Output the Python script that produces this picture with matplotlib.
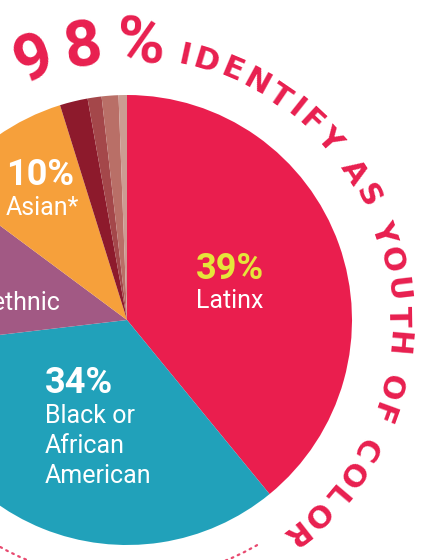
import numpy as np
import matplotlib
matplotlib.use("Agg")
import matplotlib.pyplot as plt
from matplotlib.patches import Arc
from matplotlib.font_manager import FontProperties
from matplotlib.textpath import text_to_path

# ---- data ----
categories = ["Latinx", "Black or African American", "Multiethnic", "Asian*",
              "Native American", "Pacific Islander", "Other", "White"]
values = [39, 34, 12, 10, 2, 1, 1.2, 0.6]
colors = ["#EA1E4E", "#21A1BA", "#A25984", "#F6A03B",
          "#8D1A2C", "#A4474A", "#B96F67", "#CB9C92"]
pct_labels = ["39%", "34%", "12%", "10%"]
name_labels = ["Latinx", ["Black or", "African", "American"], "Multiethnic", "Asian*"]
headline_num = "98%"
headline_text = "IDENTIFY AS YOUTH OF COLOR"

RED = "#E81F4F"
W, H = 425, 560
fig = plt.figure(figsize=(W / 100, H / 100), dpi=100)
ax = fig.add_axes([0, 0, 1, 1])
ax.axis("off")

cx, cy, R = 127, 240, 225
ax.pie(values, colors=colors, startangle=90, counterclock=False,
       center=(cx, cy), radius=R, wedgeprops=dict(linewidth=0))
ax.set_xlim(0, W)
ax.set_ylim(0, H)
ax.set_aspect("auto")

lab_font = "Roboto"
PCT = 26
NAME = 18
# Latinx
ax.text(196, 281, pct_labels[0], color="#E5E63A", fontsize=PCT, fontweight="bold",
        family=lab_font, ha="left", va="baseline")
ax.text(196, 252, name_labels[0], color="white", fontsize=NAME,
        family=lab_font, ha="left", va="baseline")
# Black or African American
ax.text(45, 167, pct_labels[1], color="white", fontsize=PCT, fontweight="bold",
        family=lab_font, ha="left", va="baseline")
for i, line in enumerate(name_labels[1]):
    ax.text(45, 137 - 30 * i, line, color="white", fontsize=NAME,
            family=lab_font, ha="left", va="baseline")
# Multiethnic (cut off at the left edge, as in the original crop)
ax.text(-64, 250, name_labels[2], color="white", fontsize=NAME,
        family=lab_font, ha="left", va="baseline")
# Asian
ax.text(6, 375, pct_labels[3], color="white", fontsize=PCT, fontweight="bold",
        family=lab_font, ha="left", va="baseline")
ax.text(6, 345, name_labels[3], color="white", fontsize=NAME,
        family=lab_font, ha="left", va="baseline")


def arc_text(s, a_first, a_last, r_base, size, family, weight):
    fp = FontProperties(family=family, weight=weight, size=size)
    widths = []
    for ch in s:
        w, h, d = text_to_path.get_text_width_height_descent(ch, fp, ismath=False)
        widths.append(w * 100 / 72)
    widths = np.array(widths)
    centers = np.cumsum(widths) - widths / 2
    span = np.deg2rad(a_last - a_first) * r_base
    n = len(s)
    t = (span - (centers[-1] - centers[0])) / (n - 1)
    centers = centers + t * np.arange(n)
    for ch, c in zip(s, centers):
        th = a_first + np.rad2deg((c - centers[0]) / r_base)
        rad = np.deg2rad(th)
        x = cx + r_base * np.sin(rad)
        y = cy + r_base * np.cos(rad)
        ax.text(x, y, ch, color=RED, fontsize=size, fontweight=weight, family=family,
                rotation=-th, rotation_mode="anchor", ha="center", va="baseline")


arc_text(headline_num, -19.7, 3.0, 258, 47, "Roboto", "bold")
arc_text(headline_text, 12.3, 142.0, 262, 22, "DejaVu Sans", "bold")

# dotted arc below pie
ax.add_patch(Arc((cx, cy), 2 * 260, 2 * 260, theta1=-150, theta2=-59,
                 color="#E84A70", lw=1.6, linestyle=(0, (0.8, 2.2)),
                 capstyle="round"))

fig.savefig("out.png", dpi=100)
